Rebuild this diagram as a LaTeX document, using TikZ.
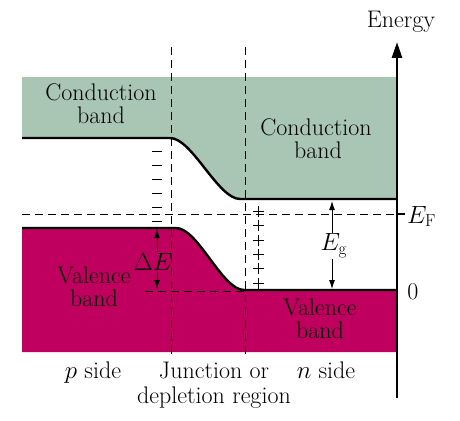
\documentclass[tikz,border=0pt]{standalone}
\usetikzlibrary{arrows.meta}
\definecolor{cband}{RGB}{169,197,180}
\definecolor{vband}{RGB}{192,0,94}
\begin{document}
\begin{tikzpicture}[x=1pt,y=-1pt,
  lbl/.style={font=\fontsize{24}{27}\selectfont, inner sep=0pt, anchor=base},
  bandedge/.style={line width=2.4pt},
  dsh/.style={line width=0.9pt, dash pattern=on 8pt off 5pt},
  sgn/.style={line width=1pt},
  dimarrow/.style={line width=0.9pt, -{Latex[length=9pt,width=6pt]}}]
\useasboundingbox (0,0) rectangle (460,420);
% bands
\fill[cband] (22,77) -- (397,77) -- (397,199) -- (240,199)
  .. controls (218,199) and (192,138) .. (170,138) -- (22,138) -- cycle;
\fill[vband] (22,352) -- (397,352) -- (397,290) -- (244,290)
  .. controls (222,290) and (198,228) .. (176,228) -- (22,228) -- cycle;
% dashed guides
\coordinate (j1t) at (171,47); \coordinate (j1b) at (171,357);
\coordinate (j2t) at (245,47); \coordinate (j2b) at (245,357);
\coordinate (efl) at (22,214); \coordinate (efr) at (397,214);
\coordinate (zl) at (145,291); \coordinate (zr) at (245,291);
\draw[dsh] (j1t) -- (j1b);
\draw[dsh] (j2t) -- (j2b);
\draw[dsh] (efl) -- (efr);
\draw[dsh] (zl) -- (zr);
% band edges
\draw[bandedge] (22,138) -- (170,138) .. controls (192,138) and (218,199) .. (240,199) -- (397,199);
\draw[bandedge] (22,228) -- (176,228) .. controls (198,228) and (222,290) .. (244,290) -- (397,290);
% charges
\foreach \y in {151,165,179,193,207,221} \draw[sgn] (152,\y) -- (162,\y);
\foreach \y in {211,225,240,254,268,283} \draw[sgn] (253,\y) -- (264,\y) (258.5,\y-5.5) -- (258.5,\y+5.5);
% axis
\coordinate (axb) at (397,398); \coordinate (axt) at (397,42);
\draw[line width=2.8pt, -{Triangle[length=16pt,width=10pt]}] (axb) -- (axt);
\coordinate (tk) at (405,214);
\draw[line width=1.1pt] (efr) -- (tk);
\node[lbl, anchor=base] (energy) at (401,28) {Energy};
\node[lbl, anchor=base west] (ef) at (407,223) {$E_{\mathrm F}$};
\node[lbl] (zero) at (413,299) {0};
% E_g
\coordinate (egt) at (332,201); \coordinate (egb) at (332,289);
\node[lbl, anchor=center, inner sep=1pt] (eg) at (334,246) {$E_{\mathrm g}$};
\draw[dimarrow] (eg.north -| egt) -- (egt);
\draw[dimarrow] (eg.south -| egb) -- (egb);
% Delta E
\coordinate (det) at (157,229); \coordinate (deb) at (157,289);
\node[lbl, anchor=center, inner sep=1pt] (de) at (153,262) {$\Delta E$};
\draw[dimarrow] (de.north -| det) -- (det);
\draw[dimarrow] (de.south -| deb) -- (deb);
% labels
\node[lbl] (cl1) at (101,100) {Conduction};
\node[lbl] (cl2) at (101,123) {band};
\node[lbl] (cr1) at (316,135) {Conduction};
\node[lbl] (cr2) at (318,158) {band};
\node[lbl] (vl1) at (94,283) {Valence};
\node[lbl] (vl2) at (94,306) {band};
\node[lbl] (vr1) at (320,315) {Valence};
\node[lbl] (vr2) at (320,338) {band};
\node[lbl] (ps) at (93,378) {$p$ side};
\node[lbl] (jn1) at (214,378) {Junction or};
\node[lbl] (jn2) at (214,403) {depletion region};
\node[lbl] (ns) at (326,378) {$n$ side};
\end{tikzpicture}
\end{document}
